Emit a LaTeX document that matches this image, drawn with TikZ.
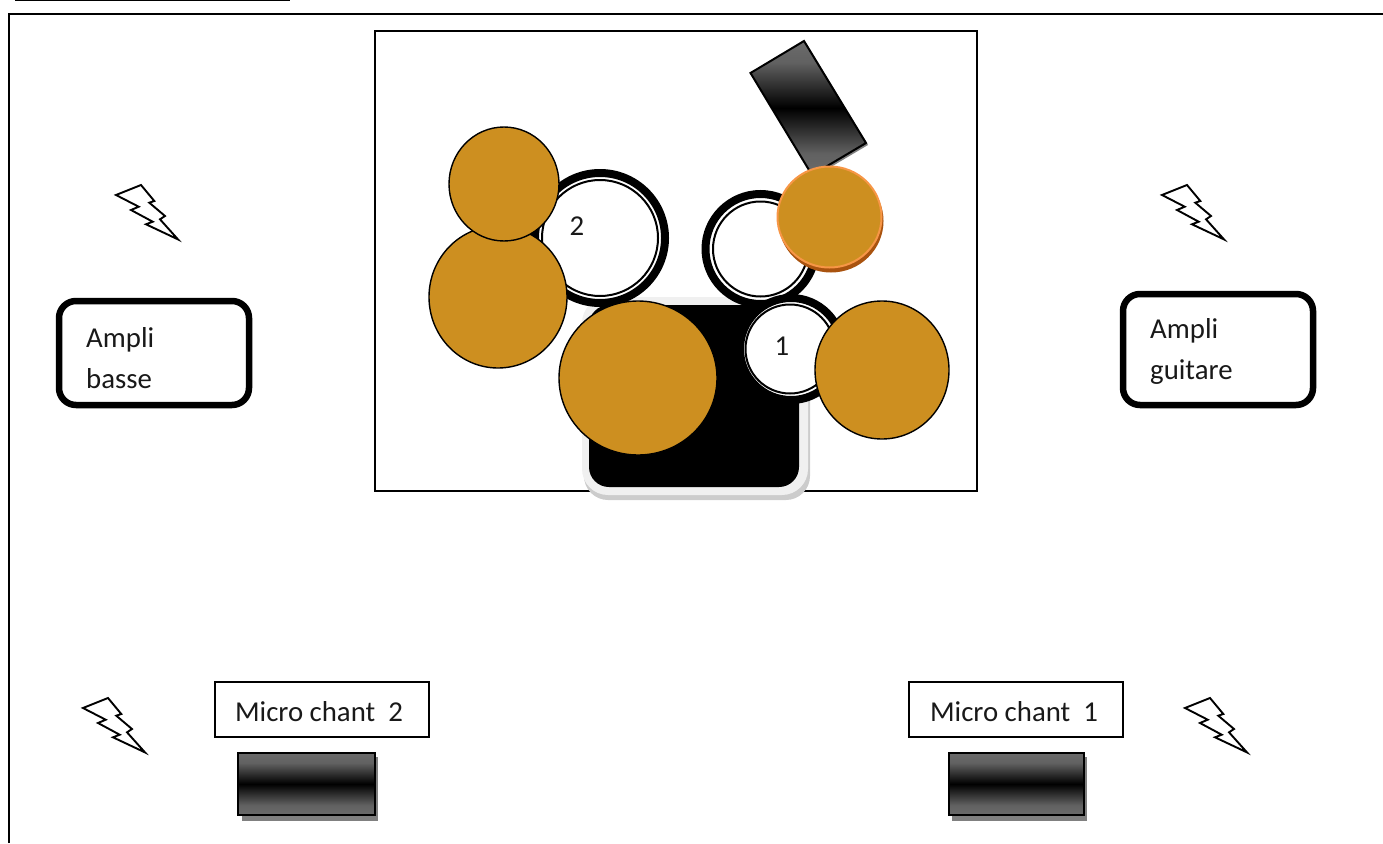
\documentclass[tikz,border=0pt]{standalone}
\usepackage{fontspec}
\usetikzlibrary{shapes.geometric}
\setmainfont{Carlito}
\definecolor{brass}{HTML}{CD8F20}
\definecolor{brassedge}{HTML}{F79646}
\definecolor{brassdark}{HTML}{A9530F}
\pgfdeclareverticalshading{micshade}{100bp}{
  color(0bp)=(black!58);color(25bp)=(black!58);color(33bp)=(black!62);color(50bp)=(black);
  color(67bp)=(black!62);color(75bp)=(black!58);color(100bp)=(black!58)}
\tikzset{
  lbl/.style={inner sep=0pt,font=\fontsize{28.8}{32}\selectfont,text=black!90},
  ampbox/.style={draw=black,line width=6.5pt,rounded corners=17pt,fill=white},
  microbox/.style={draw=black,line width=1.4pt,fill=white},
  micbar/.style={shading=micshade},
  micshadow/.style={fill=black!50},
  flash/.style={draw=black,line width=1.9pt,fill=white,line join=miter},
  cym/.style={ellipse,draw=black,line width=1.4pt,fill=brass,inner sep=0pt},
  tomouter/.style={circle,draw=black,fill=white,line width=8pt,inner sep=0pt},
  tominner/.style={circle,draw=black,fill=white,line width=2pt,inner sep=0pt},
  pics/bolt/.style={code={
    \draw[flash] (0,0)--(25,-10)--(38.3,6)--(33.3,7.7)--(49,21)--(44,24.3)--(62,44.4)--(30,29.3)--(36.7,26.7)--(15,15)--(22.7,11.7)--cycle;
  }}
}
\begin{document}
\begin{tikzpicture}[x=1pt,y=-1pt]
\useasboundingbox (0,0) rectangle (1383,843);
% top rule and page frame
\draw[line width=1.8pt] (15,0.6)--(290,0.6);
\draw[line width=2pt] (8.5,843)--(8.5,14)--(1383,14);
% kit box
\draw[line width=1.4pt] (375,31) rectangle (977,491);
% bolts
\pic at (116,195) {bolt};
\pic at (1162,195) {bolt};
\pic at (83,708) {bolt};
\pic at (1185,708) {bolt};
% tilted mic bar
\fill[micshadow] (752,75)--(806,43)--(868,145)--(814,177)--cycle;
\shade[micbar] (750.5,73)--(804,41)--(866,143)--(812,175)--cycle;
\draw[line width=2pt,line join=miter] (750.5,73)--(804,41)--(866,143)--(812,175)--cycle;
% bass drum
\fill[black!20,rounded corners=24pt] (584,301) rectangle (810,500);
\fill[black!6,rounded corners=26pt] (582,297) rectangle (808,495);
\fill[black,rounded corners=20pt] (589,305) rectangle (799,487);
% toms
\node[tomouter,minimum size=130pt] (tomB) at (600,238) {};
\node[tominner,minimum size=116pt] (tomBi) at (600,238) {};
\node[tomouter,minimum size=110pt] (tomC) at (760.5,249) {};
\node[tominner,minimum size=95pt] (tomCi) at (760.5,249) {};
\node[tomouter,minimum size=102pt] (tomA) at (791,349) {};
\node[tominner,minimum size=89pt] (tomAi) at (790,349) {};
\node[lbl] (n2) at (577,226) {2};
\node[lbl] (n1) at (782,346) {1};
% cymbals
\node[cym,minimum width=138pt,minimum height=142pt] (c1) at (498,297) {};
\node[cym,minimum width=110pt,minimum height=114pt] (c2) at (504,184) {};
\node[cym,minimum width=158pt,minimum height=154pt] (c3) at (638,378) {};
\node[cym,minimum width=134pt,minimum height=138pt] (c4) at (882,370) {};
\fill[brassdark] (831,221) ellipse (52.5pt and 51.5pt);
\node[cym,draw=brassedge,line width=2pt,minimum width=104pt,minimum height=101pt] (c5) at (829.5,217) {};
% amps
\draw[ampbox] (59,301) rectangle (249,405);
\draw[ampbox] (1123,294) rectangle (1313,405);
\node[lbl,anchor=west] (a1) at (86,339.5) {Ampli};
\node[lbl,anchor=west] (a2) at (86,379) {basse};
\node[lbl,anchor=west] (a3) at (1150,331) {Ampli};
\node[lbl,anchor=west] (a4) at (1150,372.5) {guitare};
% microphones
\draw[microbox] (215,682) rectangle (429,737);
\draw[microbox] (909,682) rectangle (1123,737);
\node[lbl] (m2) at (319,711.5) {Micro chant~~2};
\node[lbl] (m1) at (1014,711.5) {Micro chant~~1};
\fill[micshadow] (242,757) rectangle (378,821);
\shade[micbar] (238,753) rectangle (375,815);
\draw[line width=2.2pt] (238,753) rectangle (375,815);
\fill[micshadow] (952,757) rectangle (1087,821);
\shade[micbar] (949,753) rectangle (1084,815);
\draw[line width=2.2pt] (949,753) rectangle (1084,815);
\end{tikzpicture}
\end{document}
